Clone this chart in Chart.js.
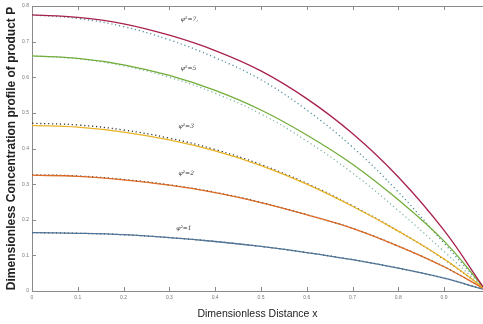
<!DOCTYPE html>
<html>
<head>
<meta charset="utf-8">
<script src="https://cdn.jsdelivr.net/npm/chart.js@4/dist/chart.umd.min.js"></script>
<style>
  html, body { margin: 0; padding: 0; background: #fff; }
  #wrap { width: 483px; height: 324px; position: relative; }
</style>
</head>
<body>
<div id="wrap"><canvas id="profileChart"></canvas></div>
<script>
// ==============================
// DATA
// ==============================
const xs = [0, 0.1, 0.2, 0.3, 0.4, 0.5, 0.6, 0.7, 0.8, 0.9, 0.985];

// solid curves
const phi7 = [0.775, 0.768, 0.750, 0.718, 0.675, 0.618, 0.540, 0.442, 0.320, 0.170, 0.012];
const phi5 = [0.660, 0.653, 0.635, 0.605, 0.563, 0.508, 0.438, 0.356, 0.256, 0.140, 0.012];
const phi3 = [0.465, 0.460, 0.446, 0.424, 0.393, 0.352, 0.300, 0.238, 0.168, 0.090, 0.010];
const phi2 = [0.325, 0.322, 0.312, 0.297, 0.276, 0.248, 0.214, 0.176, 0.126, 0.068, 0.008];
const phi1 = [0.164, 0.162, 0.158, 0.150, 0.139, 0.125, 0.108, 0.088, 0.064, 0.036, 0.005];

// dotted (approximate) curves
const phi7Approx = [0.775, 0.765, 0.742, 0.705, 0.655, 0.593, 0.508, 0.404, 0.278, 0.134, 0.012];
const phi5Approx = [0.660, 0.652, 0.632, 0.600, 0.555, 0.497, 0.421, 0.331, 0.226, 0.111, 0.010];
const phi3Approx = [0.471, 0.466, 0.452, 0.429, 0.397, 0.355, 0.302, 0.239, 0.168, 0.089, 0.010];
const phi2Approx = [0.326, 0.323, 0.313, 0.298, 0.277, 0.249, 0.214, 0.176, 0.126, 0.068, 0.008];
const phi1Approx = [0.164, 0.162, 0.158, 0.150, 0.139, 0.125, 0.108, 0.088, 0.064, 0.036, 0.005];

// curve labels, in data coordinates
const labelText = ['φ²=7,', 'φ²=5', 'φ²=3', 'φ²=2', 'φ²=1'];
const labelX = [0.325, 0.325, 0.32, 0.32, 0.315];
const labelY = [0.761, 0.626, 0.463, 0.331, 0.177];

const xTicks = [0, 0.1, 0.2, 0.3, 0.4, 0.5, 0.6, 0.7, 0.8, 0.9];
const yTicks = [0, 0.1, 0.2, 0.3, 0.4, 0.5, 0.6, 0.7, 0.8];

const toPts = (ys) => xs.map((x, i) => ({ x: x, y: ys[i] }));

function solid(data, color) {
  return {
    data: toPts(data), borderColor: color, borderWidth: 1.3,
    pointRadius: 0, tension: 0.4, fill: false
  };
}
function dotted(data, color) {
  return {
    data: toPts(data), borderColor: color, borderWidth: 1.3,
    borderDash: [1.2, 2.8], pointRadius: 0, tension: 0.4, fill: false
  };
}

// ==============================
// PLUGINS: inward ticks, top frame, curve labels
// ==============================
const framePlugin = {
  id: 'frame',
  afterDraw(chart) {
    const { ctx, chartArea: a, scales: { x, y } } = chart;
    ctx.save();
    ctx.strokeStyle = '#8a8a8a';
    ctx.lineWidth = 1;
    ctx.beginPath();
    ctx.moveTo(a.left, a.top + 0.5);
    ctx.lineTo(a.right, a.top + 0.5);
    xTicks.forEach(v => {
      const px = Math.round(x.getPixelForValue(v)) + 0.5;
      ctx.moveTo(px, a.bottom); ctx.lineTo(px, a.bottom - 4);
      ctx.moveTo(px, a.top); ctx.lineTo(px, a.top + 4);
    });
    yTicks.forEach(v => {
      const py = Math.round(y.getPixelForValue(v)) + 0.5;
      ctx.moveTo(a.left, py); ctx.lineTo(a.left + 4, py);
    });
    ctx.stroke();

    ctx.fillStyle = '#333';
    ctx.font = 'italic 6px "DejaVu Serif", serif';
    ctx.textAlign = 'left';
    ctx.textBaseline = 'middle';
    labelText.forEach((t, i) => {
      ctx.fillText(t, x.getPixelForValue(labelX[i]), y.getPixelForValue(labelY[i]));
    });
    ctx.restore();
  }
};

// ==============================
// CHART
// ==============================
new Chart(document.getElementById('profileChart'), {
  type: 'line',
  data: {
    datasets: [
      solid(phi7, '#a8214a'),
      solid(phi5, '#72ad3a'),
      solid(phi3, '#e9b325'),
      solid(phi2, '#dc6a25'),
      solid(phi1, '#4f7598'),
      dotted(phi7Approx, '#4f8f9e'),
      dotted(phi5Approx, '#7fb6a6'),
      dotted(phi3Approx, '#333333'),
      dotted(phi2Approx, '#333333'),
      dotted(phi1Approx, '#333333')
    ]
  },
  options: {
    responsive: true,
    maintainAspectRatio: false,
    animation: false,
    layout: { padding: { top: 6, right: 0 } },
    plugins: { legend: { display: false }, tooltip: { enabled: false } },
    scales: {
      x: {
        type: 'linear', min: 0, max: 0.985,
        afterBuildTicks: s => { s.ticks = xTicks.map(v => ({ value: v })); },
        afterFit: s => { s.height = 33; },
        grid: { display: false, drawTicks: false },
        border: { display: true, color: '#8a8a8a', width: 1 },
        ticks: {
          color: '#777', padding: 4, maxRotation: 0, autoSkip: false,
          font: { size: 5, family: 'Liberation Sans, Arial, sans-serif' },
          callback: v => String(Math.round(v * 10) / 10)
        },
        title: {
          display: true, text: 'Dimensionless Distance x', color: '#222',
          padding: { top: 2, bottom: 4 },
          font: { size: 10.5, family: 'Liberation Sans, Arial, sans-serif' }
        }
      },
      y: {
        min: 0, max: 0.8,
        afterBuildTicks: s => { s.ticks = yTicks.map(v => ({ value: v })); },
        afterFit: s => { s.width = 32; },
        grid: { display: false, drawTicks: false },
        border: { display: true, color: '#8a8a8a', width: 1 },
        ticks: {
          color: '#777', padding: 3, autoSkip: false,
          font: { size: 5, family: 'Liberation Sans, Arial, sans-serif' },
          callback: v => String(Math.round(v * 10) / 10)
        },
        title: {
          display: true, text: 'Dimensionless Concentration profile of product P',
          color: '#222', padding: { top: 4, bottom: 2 },
          font: { size: 12, weight: 'bold', family: 'Liberation Sans, Arial, sans-serif' }
        }
      }
    }
  },
  plugins: [framePlugin]
});
</script>
</body>
</html>
